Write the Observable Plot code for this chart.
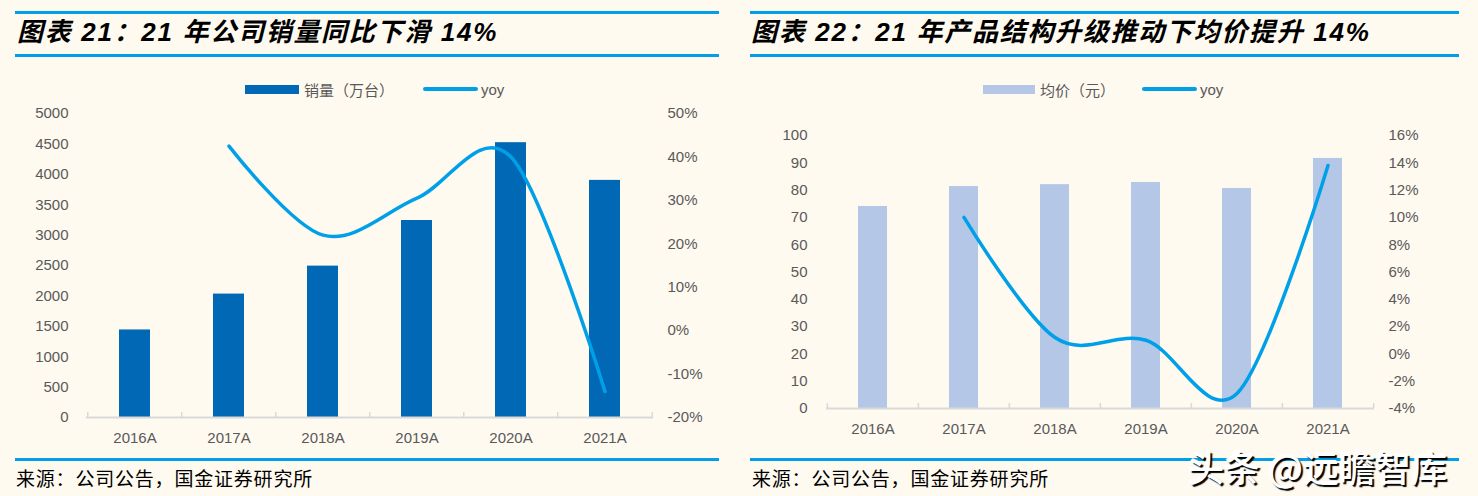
<!DOCTYPE html>
<html>
<head>
<meta charset="utf-8">
<script src="https://cdn.jsdelivr.net/npm/d3@7"></script>
<script src="https://cdn.jsdelivr.net/npm/@observablehq/plot@0.6"></script>
<style>
  html, body { margin: 0; padding: 0; background: #fffaf0; }
  #root { position: relative; width: 1478px; height: 496px; background: #fffaf0; overflow: hidden;
          font-family: "Liberation Sans", Arial, "Noto Sans CJK SC", sans-serif; }
  .hr { position: absolute; height: 3px; background: #00a0e9; }
  .title { position: absolute; top: 19px; font-size: 26px; line-height: 26px; font-weight: bold; font-style: italic;
           letter-spacing: 1.7px; color: #000; white-space: nowrap;
           font-family: "Liberation Sans", Arial, "Noto Sans CJK SC", sans-serif; }
  .legend { position: absolute; top: 79px; height: 20px; display: flex; align-items: center; font-size: 15px;
            color: #595959; white-space: nowrap; font-family: "Noto Sans CJK SC", "Liberation Sans", sans-serif; }
  .legend .sw { display: inline-block; width: 54px; height: 9px; margin-right: 5px; }
  .legend .ln { display: inline-block; width: 55px; height: 3.5px; border-radius: 2px; background: #00a0e9; margin-left: 29px; margin-right: 3px; }
  .legend .yoy { font-family: "Liberation Sans", Arial, sans-serif; }
  .src { position: absolute; top: 467px; font-size: 19px; line-height: 22px; letter-spacing: 0.8px; color: #000;
         white-space: nowrap; font-family: "Noto Sans CJK SC", sans-serif; }
  .chart { position: absolute; }
  .wm { position: absolute; left: 1188px; top: 444px; font-size: 36px; line-height: 44px; color: #fff; white-space: nowrap;
        font-family: "Noto Sans CJK SC", sans-serif; font-weight: 500;
        text-shadow: 2px 2px 1px #000, -1px -1px 0 #fff; }
</style>
</head>
<body>
<div id="root">
  <div class="hr" style="left:15px; width:704px; top:11px;"></div>
  <div class="title" style="left:17px;">图表 21：21 年公司销量同比下滑 14%</div>
  <div class="hr" style="left:15px; width:704px; top:54px;"></div>

  <div class="hr" style="left:750px; width:709px; top:11px;"></div>
  <div class="title" style="left:751px;">图表 22：21 年产品结构升级推动下均价提升 14%</div>
  <div class="hr" style="left:750px; width:709px; top:54px;"></div>

  <div class="legend" style="left:245px;"><span class="sw" style="background:#0068b5"></span><span>销量（万台）</span><span class="ln"></span><span class="yoy">yoy</span></div>
  <div class="legend" style="left:983px;"><span class="sw" style="background:#b4c7e7; width:52px"></span><span>均价（元）</span><span class="ln" style="margin-left:27px"></span><span class="yoy">yoy</span></div>

  <div id="c1" class="chart" style="left:0px; top:100px;"></div>
  <div id="c2" class="chart" style="left:740px; top:120px;"></div>

  <div class="hr" style="left:15px; width:704px; top:458px;"></div>
  <div class="hr" style="left:750px; width:709px; top:458px;"></div>
  <div class="src" style="left:16px;">来源：公司公告，国金证券研究所</div>
  <div class="src" style="left:752px;">来源：公司公告，国金证券研究所</div>
  <div class="wm">头条 @远瞻智库</div>
</div>
<script>
// ---- data ----
const categories = ["2016A", "2017A", "2018A", "2019A", "2020A", "2021A"];
// chart 21: sales volume (10k units) and yoy
const salesVolume = [1440, 2030, 2490, 3240, 4520, 3900];
const salesYoy = [null, 0.425, 0.22, 0.305, 0.40, -0.14];
const salesTicks = [0, 500, 1000, 1500, 2000, 2500, 3000, 3500, 4000, 4500, 5000];
const salesYoyTicks = [-0.2, -0.1, 0, 0.1, 0.2, 0.3, 0.4, 0.5];
// chart 22: average price (yuan) and yoy
const avgPrice = [74, 81.3, 82, 82.8, 80.6, 91.6];
const priceYoy = [null, 0.10, 0.012, 0.010, -0.029, 0.138];
const priceTicks = [0, 10, 20, 30, 40, 50, 60, 70, 80, 90, 100];
const priceYoyTicks = [-0.04, -0.02, 0, 0.02, 0.04, 0.06, 0.08, 0.10, 0.12, 0.14, 0.16];

const pct = v => Math.round(v * 100) + "%";

function dualChart(o) {
  const yMax = o.yTicks[o.yTicks.length - 1];
  const r0 = o.yoyTicks[0], r1 = o.yoyTicks[o.yoyTicks.length - 1];
  const toY = v => (v - r0) / (r1 - r0) * yMax;
  const fromY = y => r0 + y / yMax * (r1 - r0);
  const table = categories.map((c, i) => ({cat: c, v: o.bars[i], yoy: o.yoy[i]}));
  const lineData = table.filter(d => d.yoy != null);
  const step = (o.width - o.ml - o.mr) / categories.length;
  const axisColor = "#d9d9d9";
  return Plot.plot({
    width: o.width, height: o.height,
    marginLeft: o.ml, marginRight: o.mr, marginTop: o.mt, marginBottom: o.mb,
    style: {background: "transparent", fontFamily: "'Liberation Sans', Arial, sans-serif", fontSize: "15px", color: "#595959", overflow: "visible"},
    x: {type: "band", domain: categories, paddingInner: o.pad, paddingOuter: o.pad / 2, align: 0.5, axis: null, label: null},
    y: {domain: [0, yMax], axis: null, label: null},
    marks: [
      Plot.barY(table, {x: "cat", y: "v", fill: o.color}),
      Plot.ruleY([0], {stroke: axisColor, strokeWidth: 2}),
      Plot.ruleX(categories, {x: d => d, y1: 0, y2: 0, dx: -step / 2, insetTop: -5, stroke: axisColor, strokeWidth: 1.5}),
      Plot.ruleX(categories.slice(-1), {x: d => d, y1: 0, y2: 0, dx: step / 2, insetTop: -5, stroke: axisColor, strokeWidth: 1.5}),
      Plot.line(lineData, {x: "cat", y: d => toY(d.yoy), curve: "cardinal", stroke: "#00a0e9", strokeWidth: 3.5, strokeLinecap: "round"}),
      Plot.axisY(o.yTicks, {anchor: "left", label: null, tickSize: 0, tickPadding: o.padL, tickFormat: d => String(d)}),
      Plot.axisY(o.yoyTicks.map(toY), {anchor: "right", label: null, tickSize: 0, tickPadding: 14, tickFormat: d => pct(fromY(d))}),
      Plot.axisX(categories, {label: null, tickSize: 0, tickPadding: 15, style: {letterSpacing: "0.6px"}})
    ]
  });
}

document.getElementById("c1").appendChild(dualChart({
  bars: salesVolume, yoy: salesYoy, yTicks: salesTicks, yoyTicks: salesYoyTicks,
  color: "#0068b5", width: 740, height: 350, ml: 86, mr: 87, mt: 13, mb: 33, pad: 0.67, padL: 18
}));
document.getElementById("c2").appendChild(dualChart({
  bars: avgPrice, yoy: priceYoy, yTicks: priceTicks, yoyTicks: priceYoyTicks,
  color: "#b4c7e7", width: 738, height: 320, ml: 86, mr: 104, mt: 15, mb: 32, pad: 0.68, padL: 19
}));
</script>
</body>
</html>
